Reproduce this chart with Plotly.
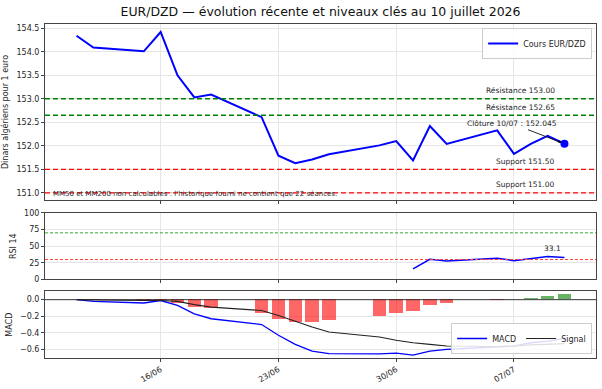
import plotly.graph_objects as go

dates = ["2026-06-11", "2026-06-12", "2026-06-15", "2026-06-16", "2026-06-17", "2026-06-18",
         "2026-06-19", "2026-06-22", "2026-06-23", "2026-06-24", "2026-06-25", "2026-06-26",
         "2026-06-29", "2026-06-30", "2026-07-01", "2026-07-02", "2026-07-03", "2026-07-06",
         "2026-07-07", "2026-07-08", "2026-07-09", "2026-07-10"]
prices = [154.34, 154.09, 154.01, 154.42, 153.50, 153.03, 153.09, 152.61, 151.79, 151.63, 151.71,
          151.82, 152.01, 152.10, 151.69, 152.42, 152.04, 152.33, 151.83, 152.04, 152.21, 152.045]
rsi = [None] * 14 + [16.0, 30.2, 27.7, 31.7, 28.3, 31.7, 34.5, 33.1]
macd = [0.0, -0.02, -0.04, -0.01, -0.07, -0.17, -0.23, -0.30, -0.43, -0.54, -0.62, -0.65,
        -0.655, -0.645, -0.67, -0.62, -0.60, -0.575, -0.56, -0.52, -0.50, -0.47]
signal = [0.0, -0.004, -0.01, -0.01, -0.02, -0.06, -0.09, -0.13, -0.19, -0.26, -0.33, -0.39,
          -0.45, -0.49, -0.52, -0.54, -0.56, -0.565, -0.56, -0.545, -0.54, -0.53]
hist = [0.0, -0.005, -0.02, -0.005, -0.04, -0.09, -0.11, -0.17, -0.24, -0.27, -0.28, -0.25,
        -0.20, -0.16, -0.145, -0.07, -0.04, -0.005, 0.002, 0.012, 0.04, 0.06]
resistances = [153.00, 152.65]
supports = [151.50, 151.00]
tick_dates = ["2026-06-16", "2026-06-23", "2026-06-30", "2026-07-07"]
tick_text = ["16/06", "23/06", "30/06", "07/07"]

FONT = "DejaVu Sans"
TXT = "#262626"
fig = go.Figure()

# Price panel
fig.add_trace(go.Scatter(x=dates, y=prices, mode="lines", name="Cours EUR/DZD",
                         line=dict(color="#0000ff", width=2), xaxis="x", yaxis="y",
                         legend="legend"))
fig.add_trace(go.Scatter(x=[dates[-1]], y=[prices[-1]], mode="markers", showlegend=False,
                         marker=dict(color="#0000ff", size=8), xaxis="x", yaxis="y"))

# RSI panel
fig.add_trace(go.Scatter(x=dates, y=rsi, mode="lines", showlegend=False,
                         line=dict(color="#0000ff", width=1.5), xaxis="x2", yaxis="y2"))

# MACD panel
bar_colors = ["rgba(255,0,0,0.6)" if h < 0 else "rgba(0,128,0,0.6)" for h in hist]
fig.add_trace(go.Bar(x=dates, y=hist, marker=dict(color=bar_colors, line=dict(width=0)),
                     width=0.8 * 86400000, showlegend=False, xaxis="x3", yaxis="y3"))
fig.add_trace(go.Scatter(x=dates, y=macd, mode="lines", name="MACD",
                         line=dict(color="#0000ff", width=1.3), xaxis="x3", yaxis="y3",
                         legend="legend2"))
fig.add_trace(go.Scatter(x=dates, y=signal, mode="lines", name="Signal",
                         line=dict(color="#222222", width=1.1), xaxis="x3", yaxis="y3",
                         legend="legend2"))

shapes = []
for r in resistances:
    shapes.append(dict(type="line", xref="x domain", yref="y", x0=0, x1=1, y0=r, y1=r,
                       line=dict(color="green", width=1.4, dash="5px,3px")))
for s in supports:
    shapes.append(dict(type="line", xref="x domain", yref="y", x0=0, x1=1, y0=s, y1=s,
                       line=dict(color="red", width=1.4, dash="5px,3px")))
shapes.append(dict(type="line", xref="x2 domain", yref="y2", x0=0, x1=1, y0=70, y1=70,
                   line=dict(color="#33aa33", width=1, dash="3px,2px")))
shapes.append(dict(type="line", xref="x2 domain", yref="y2", x0=0, x1=1, y0=30, y1=30,
                   line=dict(color="#ff4040", width=1, dash="3px,2px")))
shapes.append(dict(type="line", xref="x3 domain", yref="y3", x0=0, x1=1, y0=0, y1=0,
                   line=dict(color="#222222", width=0.9)))

annotations = []
for r in resistances:
    annotations.append(dict(x=dates[-1], y=r, xref="x", yref="y", text=f"Résistance {r:.2f}",
                            showarrow=False, xanchor="right", yanchor="middle", xshift=-7,
                            yshift=8, font=dict(size=7.5, color=TXT, family=FONT)))
for s in supports:
    annotations.append(dict(x=dates[-1], y=s, xref="x", yref="y", text=f"Support {s:.2f}",
                            showarrow=False, xanchor="right", yanchor="middle", xshift=-7,
                            yshift=8, font=dict(size=7.5, color=TXT, family=FONT)))
annotations.append(dict(x=dates[-1], y=prices[-1], xref="x", yref="y",
                        text=f"Clôture 10/07 : {prices[-1]:.3f}", showarrow=True,
                        ax=-52, ay=-20, arrowhead=2, arrowsize=0.7, arrowwidth=0.9,
                        arrowcolor="#111111", standoff=3,
                        font=dict(size=7.5, color=TXT, family=FONT)))
annotations.append(dict(x=0.01, y=0.035, xref="x domain", yref="y domain",
                        text="MM50 et MM200 non calculables : l'historique fourni ne contient que 22 séances.",
                        showarrow=False, xanchor="left", yanchor="middle",
                        font=dict(size=7, color=TXT, family=FONT)))
annotations.append(dict(x=dates[-1], y=rsi[-1], xref="x2", yref="y2", text=f"{rsi[-1]:.1f}",
                        showarrow=False, xanchor="center", yanchor="middle", xshift=-12,
                        yshift=9, font=dict(size=7.5, color=TXT, family=FONT)))

xr = ["2026-06-09 03:00", "2026-07-11 21:00"]
gridc = "#e6e6e6"
axcommon = dict(showline=True, mirror=True, linecolor="#444444", linewidth=1,
                ticks="outside", ticklen=3, tickcolor="#444444", gridcolor=gridc,
                showgrid=True, zeroline=False, tickfont=dict(size=8, color=TXT, family=FONT))

xcommon = dict(axcommon, type="date", range=xr, tickvals=tick_dates, ticktext=tick_text)

fig.update_layout(
    width=602, height=389,
    margin=dict(l=43, r=5, t=24, b=29),
    paper_bgcolor="white", plot_bgcolor="white",
    font=dict(family=FONT, color=TXT, size=8),
    title=dict(text="EUR/DZD — évolution récente et niveaux clés au 10 juillet 2026",
               x=0.5, xref="paper", xanchor="center", y=0.97, yanchor="middle",
               font=dict(size=12.5, color="#111111", family=FONT)),
    bargap=0,
    xaxis=dict(xcommon, domain=[0, 1], anchor="y", showticklabels=False),
    xaxis2=dict(xcommon, domain=[0, 1], anchor="y2", matches="x", showticklabels=False),
    xaxis3=dict(xcommon, domain=[0, 1], anchor="y3", matches="x", tickangle=-30),
    yaxis=dict(axcommon, domain=[0.4732, 1], range=[150.85, 154.59], dtick=0.5,
               tickformat=".1f",
               title=dict(text="Dinars algériens pour 1 euro", standoff=6,
                          font=dict(size=8, color=TXT, family=FONT))),
    yaxis2=dict(axcommon, domain=[0.2351, 0.4345], range=[0, 100],
                tickvals=[0, 25, 50, 75, 100],
                title=dict(text="RSI 14", standoff=6, font=dict(size=8, color=TXT, family=FONT))),
    yaxis3=dict(axcommon, domain=[0, 0.1994], range=[-0.704, 0.1],
                tickvals=[0.0, -0.2, -0.4, -0.6], tickformat=".1f",
                title=dict(text="MACD", standoff=6, font=dict(size=8, color=TXT, family=FONT))),
    legend=dict(x=0.993, y=0.988, xanchor="right", yanchor="top", bgcolor="rgba(255,255,255,0.85)",
                bordercolor="#cccccc", borderwidth=1, font=dict(size=8, color=TXT, family=FONT),
                itemwidth=30, tracegroupgap=0),
    legend2=dict(x=0.993, y=0.012, xanchor="right", yanchor="bottom", orientation="h",
                 bgcolor="rgba(255,255,255,0.85)", bordercolor="#cccccc", borderwidth=1,
                 font=dict(size=8, color=TXT, family=FONT), itemwidth=30),
    shapes=shapes,
    annotations=annotations,
)

fig.write_html("out.html")
